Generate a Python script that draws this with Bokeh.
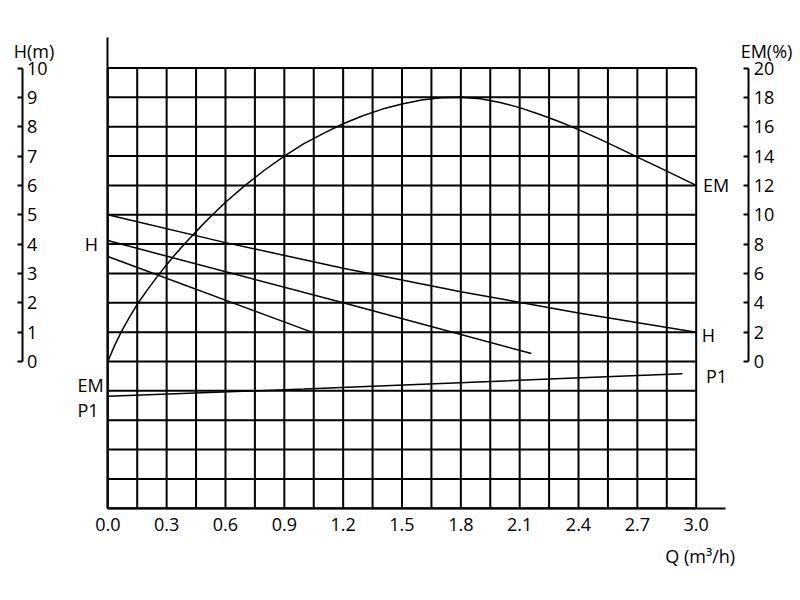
from bokeh.plotting import figure
from bokeh.models import Range1d, LinearAxis, FixedTicker, Label, NumeralTickFormatter
from bokeh.embed import file_html
from bokeh.resources import INLINE

# ---------------- data ----------------
q_ticks = [0.0, 0.3, 0.6, 0.9, 1.2, 1.5, 1.8, 2.1, 2.4, 2.7, 3.0]
h_ticks = [0, 1, 2, 3, 4, 5, 6, 7, 8, 9, 10]
em_ticks = [0, 2, 4, 6, 8, 10, 12, 14, 16, 18, 20]
grid_q = [0.0, 0.15, 0.3, 0.45, 0.6, 0.75, 0.9, 1.05, 1.2, 1.35, 1.5, 1.65, 1.8,
          1.95, 2.1, 2.25, 2.4, 2.55, 2.7, 2.85, 3.0]
grid_h = [-5, -4, -3, -2, -1, 0, 1, 2, 3, 4, 5, 6, 7, 8, 9, 10]

# efficiency EM (%) vs Q
em_q = [0.0, 0.035, 0.07, 0.11, 0.15, 0.2, 0.25, 0.3, 0.35, 0.4, 0.45, 0.5, 0.55,
        0.6, 0.7, 0.8, 0.9, 1.0, 1.1, 1.2, 1.3, 1.4, 1.5, 1.6, 1.7, 1.8, 1.9,
        2.0, 2.1, 2.2, 2.3, 2.4, 2.5, 2.6, 2.7, 2.8, 2.9, 3.0]
em_val = [0.0, 1.1, 2.05, 3.0, 3.9, 4.85, 5.75, 6.6, 7.4, 8.15, 8.85, 9.55, 10.2,
          10.85, 12.0, 13.05, 14.0, 14.85, 15.55, 16.2, 16.75, 17.2, 17.55, 17.82,
          17.97, 18.0, 17.9, 17.65, 17.3, 16.85, 16.35, 15.8, 15.2, 14.57, 13.93,
          13.3, 12.65, 12.0]

# head H (m) vs Q, three speeds
h1_q = [0.0, 0.6, 1.2, 1.8, 2.4, 3.0]
h1_val = [5.0, 4.05, 3.18, 2.38, 1.65, 1.0]
h2_q = [0.0, 1.2, 2.16]
h2_val = [4.12, 2.0, 0.27]
h3_q = [0.0, 1.04]
h3_val = [3.58, 1.0]

# P1 (drawn in the lower band of the grid)
p1_q = [0.0, 1.0, 2.25, 2.93]
p1_val = [-1.18, -0.94, -0.6, -0.42]

# ---------------- layout helpers (pixel placement) ----------------
W, H = 792, 592
OX, OY = 0, 0                 # canvas origin in picture px
PX0, PXU = 107.3, 196.13      # picture px of Q=0, px per unit
PY0, PYU = 361.0, 29.35       # picture py of H=0, px per unit
def qx(px): return (px - PX0) / PXU
def hy(py): return (PY0 - py) / PYU

FONT = "Open Sans"

p = figure(width=W, height=H, min_border=0, x_axis_type=None, y_axis_type=None,
           toolbar_location=None, output_backend="svg",
           x_range=Range1d(qx(OX), qx(OX + W)), y_range=Range1d(hy(OY + H), hy(OY)))
p.outline_line_color = None
p.background_fill_color = "white"
p.extra_y_ranges = {"em": Range1d(2 * hy(OY + H), 2 * hy(OY))}

# grid
n = len(grid_q)
p.segment(x0=grid_q, y0=[min(grid_h)] * n, x1=grid_q, y1=[max(grid_h)] * n,
          line_color="black", line_width=2)
m = len(grid_h)
p.segment(x0=[min(grid_q)] * m, y0=grid_h, x1=[max(grid_q)] * m, y1=grid_h,
          line_color="black", line_width=2)

def style_axis(ax):
    ax.axis_line_color = "black"
    ax.axis_line_width = 2
    ax.major_tick_line_color = "black"
    ax.major_tick_line_width = 2
    ax.minor_tick_line_color = None
    ax.major_label_text_font = FONT
    ax.major_label_text_font_size = "18px"
    ax.major_label_text_color = "black"

# bottom Q axis
bottom = LinearAxis(fixed_location=min(grid_h), bounds=(0, qx(725)),
                    ticker=FixedTicker(ticks=q_ticks),
                    formatter=NumeralTickFormatter(format="0.0"))
style_axis(bottom)
bottom.major_tick_out = 0
bottom.major_tick_in = 0
bottom.major_label_standoff = 10
p.add_layout(bottom, "below")

# main left border line
left_line = LinearAxis(fixed_location=0, bounds=(min(grid_h), hy(37)),
                       ticker=FixedTicker(ticks=[]))
style_axis(left_line)
left_line.major_label_text_alpha = 0
p.add_layout(left_line, "left")

# H(m) scale
h_axis = LinearAxis(fixed_location=qx(21.5), bounds=(0, 10),
                    ticker=FixedTicker(ticks=h_ticks))
style_axis(h_axis)
h_axis.major_tick_in = 5
h_axis.major_tick_out = 0
h_axis.major_label_standoff = 5
p.add_layout(h_axis, "right")

# EM(%) scale
em_axis = LinearAxis(y_range_name="em", fixed_location=qx(748.3), bounds=(0, 20),
                     ticker=FixedTicker(ticks=em_ticks))
style_axis(em_axis)
em_axis.major_tick_in = 5
em_axis.major_tick_out = 0
em_axis.major_label_standoff = 5
p.add_layout(em_axis, "right")

# curves
p.line(em_q, em_val, y_range_name="em", line_color="black", line_width=1.5)
p.line(h1_q, h1_val, line_color="black", line_width=1.5)
p.line(h2_q, h2_val, line_color="black", line_width=1.5)
p.line(h3_q, h3_val, line_color="black", line_width=1.5)
p.line(p1_q, p1_val, line_color="black", line_width=1.5)

# labels (picture pixel centres)
def add_label(text, px, py, size="18px"):
    p.add_layout(Label(x=px - OX, y=(OY + H) - py, x_units="screen", y_units="screen",
                       text=text, text_font=FONT, text_font_size=size,
                       text_color="black", text_align="center",
                       text_baseline="middle"))

add_label("H(m)", 33.5, 50.5)
add_label("EM(%)", 766, 50)
add_label("H", 91, 243.5)
add_label("EM", 90, 384)
add_label("P1", 87.5, 409)
add_label("EM", 715.5, 184)
add_label("H", 708, 334)
add_label("P1", 716, 375.7)
add_label("Q (m³/h)", 699.7, 555)

open("out.html", "w").write(file_html(p, INLINE))
